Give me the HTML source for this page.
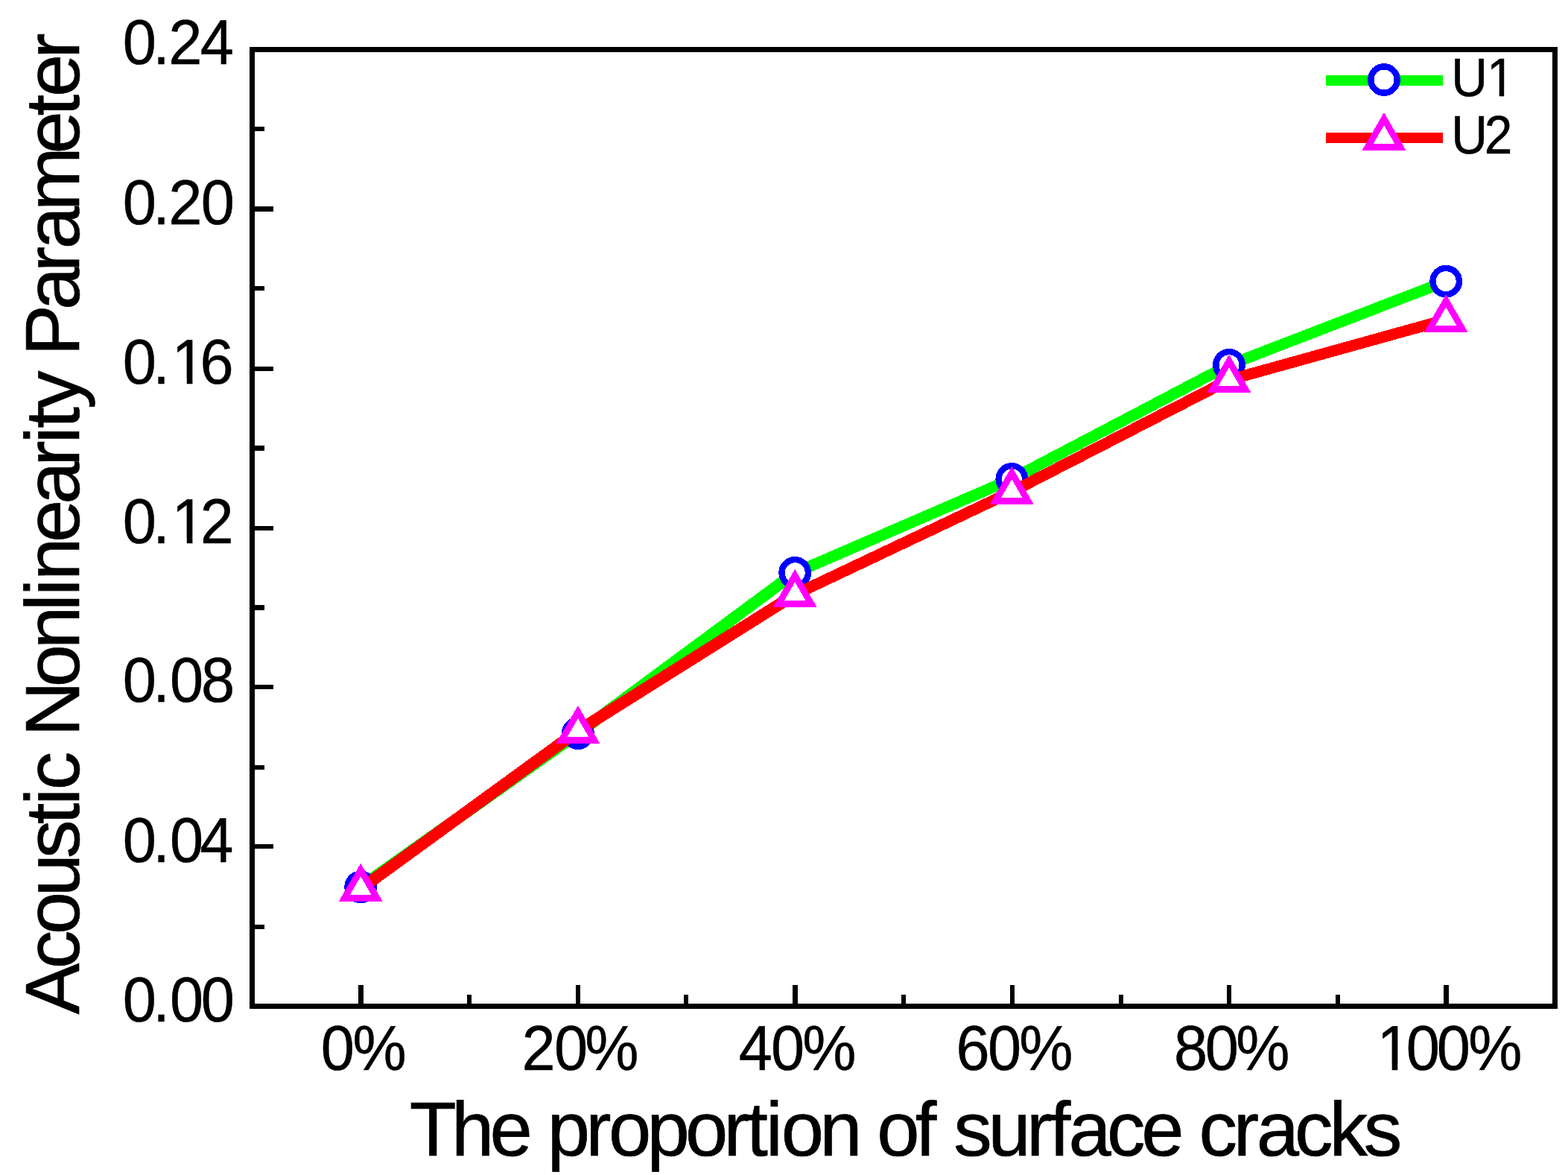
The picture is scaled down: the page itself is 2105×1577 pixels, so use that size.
<!DOCTYPE html>
<html lang="en">
<head>
<meta charset="utf-8">
<title>Acoustic Nonlinearity Parameter vs. proportion of surface cracks</title>
<style>
html,body{margin:0;padding:0;background:#fff}
body{width:2105px;height:1577px;overflow:hidden}
svg{display:block}
text{font-kerning:none;text-rendering:geometricPrecision;white-space:pre}
</style>
</head>
<body>
<svg width="2105" height="1577" viewBox="0 0 2105 1577" role="img" aria-label="Acoustic Nonlinearity Parameter versus the proportion of surface cracks">
<defs><clipPath id="c0"><path clip-rule="evenodd" d="M84.5 414.84H395.3V548.12H84.5zM235 508H250.8V516H235zM258.43 508H273V516H258.43z"/></clipPath><clipPath id="c1"><path clip-rule="evenodd" d="M84.5 628.84H394.5V762.12H84.5zM235 722H250.8V730H235zM258.43 722H273V730H258.43z"/></clipPath><clipPath id="c2"><path clip-rule="evenodd" d="M1770.5 1335.94H2123.1V1469.22H1770.5zM1853 1429H1868.7V1437H1853zM1876.32 1429H1890V1437H1876.32z"/></clipPath><clipPath id="c3"><path clip-rule="evenodd" d="M1882.7 44.22H2089.3V156.86H1882.7zM1999 123H2012.68V130H1999zM2019.15 123H2031V130H2019.15z"/></clipPath></defs>
<rect x="338.5" y="66.5" width="1749.0" height="1284.0" fill="none" stroke="#000" stroke-width="7"/>
<path d="M481 1322h7v26h-7zM627 1335h6v13h-6zM773 1322h6v26h-6zM918 1335h6v13h-6zM1064 1322h7v26h-7zM1210 1335h6v13h-6zM1356 1322h6v26h-6zM1502 1335h6v13h-6zM1647 1322h6v26h-6zM1793 1335h6v13h-6zM1938 1322h7v26h-7zM341 1241h14v6h-14zM341 1133h26v6h-26zM341 1027h14v6h-14zM341 919h26v6h-26zM341 812h14v7h-14zM341 706h26v6h-26zM341 598h14v7h-14zM341 492h26v6h-26zM341 384h14v6h-14zM341 277h26v7h-26zM341 170h14v6h-14z" fill="#000"/>
<g shape-rendering="crispEdges">
<g stroke="#00ff00" stroke-linecap="round" fill="none"><line x1="484.2" y1="1190.4" x2="775.9" y2="984.1" stroke-width="15.9"/><line x1="775.9" y1="984.1" x2="1067.2" y2="768.8" stroke-width="15.9"/><line x1="1067.2" y1="768.8" x2="1358.3" y2="642.9" stroke-width="15.2"/><line x1="1358.3" y1="642.9" x2="1650" y2="489.8" stroke-width="15.2"/><line x1="1650" y1="489.8" x2="1941.2" y2="377.6" stroke-width="15.0"/></g>
<g fill="#fff" stroke="#0000ff" stroke-width="8.4">
<circle cx="484.2" cy="1190.4" r="17.7"/>
<circle cx="775.9" cy="984.1" r="17.7"/>
<circle cx="1067.2" cy="768.8" r="17.7"/>
<circle cx="1358.3" cy="642.9" r="17.7"/>
<circle cx="1650" cy="489.8" r="17.7"/>
<circle cx="1941.2" cy="377.6" r="17.7"/>
</g>
<g stroke="#ff0000" stroke-linecap="round" fill="none"><line x1="484.2" y1="1192.9" x2="775.9" y2="980.9" stroke-width="15.9"/><line x1="775.9" y1="980.9" x2="1067.2" y2="797.9" stroke-width="15.9"/><line x1="1067.2" y1="797.9" x2="1358.3" y2="660" stroke-width="15.2"/><line x1="1358.3" y1="660" x2="1650" y2="509.9" stroke-width="15.2"/><line x1="1650" y1="509.9" x2="1941.2" y2="429" stroke-width="15.0"/></g>
<g fill="#fff" stroke="#ff00ff" stroke-width="8.7" stroke-linejoin="miter">
<polygon points="484.2,1167.55 506.15,1205.57 462.25,1205.57"/>
<polygon points="775.9,955.55 797.85,993.57 753.95,993.57"/>
<polygon points="1067.2,772.55 1089.15,810.57 1045.25,810.57"/>
<polygon points="1358.3,634.65 1380.25,672.67 1336.35,672.67"/>
<polygon points="1650,484.55 1671.95,522.57 1628.05,522.57"/>
<polygon points="1941.2,403.65 1963.15,441.67 1919.25,441.67"/>
</g>
<rect x="1780" y="101" width="157" height="14" fill="#00ff00"/>
<circle cx="1858" cy="107" r="17.7" fill="#fff" stroke="#0000ff" stroke-width="8.4"/>
<rect x="1780" y="178" width="157" height="14" fill="#ff0000"/>
<polygon points="1858,159.55 1879.95,197.57 1836.05,197.57" fill="#fff" stroke="#ff00ff" stroke-width="8.7"/>
</g>
<g font-family='"Liberation Sans", Arial, Helvetica, sans-serif' fill="#000">
<text transform="translate(167.8 85.9) scale(0.975 1.024)" x="-3.06 38.43 60.07 103.51" y="0" font-size="83.3" stroke="#000" stroke-width="0.45">0.24</text>
<text transform="translate(167.8 300.8) scale(0.975 1.024)" x="-3.06 38.43 60.07 104.68" y="0" font-size="83.3" stroke="#000" stroke-width="0.45">0.20</text>
<g clip-path="url(#c0)"><text transform="translate(167.8 514.8) scale(0.975 1.024)" x="-3.06 38.43 64.41 103.42" y="0" font-size="83.3" stroke="#000" stroke-width="0.45">0.16</text></g>
<g clip-path="url(#c1)"><text transform="translate(167.8 728.8) scale(0.975 1.024)" x="-3.06 38.43 64.41 103.3" y="0" font-size="83.3" stroke="#000" stroke-width="0.45">0.12</text></g>
<text transform="translate(167.8 941.9) scale(0.975 1.024)" x="-3.06 38.43 61.66 104.78" y="0" font-size="83.3" stroke="#000" stroke-width="0.45">0.08</text>
<text transform="translate(167.8 1156.8) scale(0.975 1.024)" x="-3.06 38.43 61.66 103.15" y="0" font-size="83.3" stroke="#000" stroke-width="0.45">0.04</text>
<text transform="translate(167.8 1370.8) scale(0.975 1.024)" x="-3.06 38.43 61.66 104.68" y="0" font-size="83.3" stroke="#000" stroke-width="0.45">0.00</text>
<text transform="translate(433.8 1435.9) scale(0.975 1.024)" x="-3.01 40.68" y="0" font-size="83.3" stroke="#000" stroke-width="0.45">0%</text>
<text transform="translate(703 1435.9) scale(0.975 1.024)" x="-2.65 41.94 84.45" y="0" font-size="83.3" stroke="#000" stroke-width="0.45">20%</text>
<text transform="translate(993 1435.9) scale(0.975 1.024)" x="-1.36 43.02 86.54" y="0" font-size="83.3" stroke="#000" stroke-width="0.45">40%</text>
<text transform="translate(1285.8 1435.9) scale(0.975 1.024)" x="-2.37 41.2 84.59" y="0" font-size="83.3" stroke="#000" stroke-width="0.45">60%</text>
<text transform="translate(1579 1435.9) scale(0.975 1.024)" x="-3.09 39.81 82.4" y="0" font-size="83.3" stroke="#000" stroke-width="0.45">80%</text>
<g clip-path="url(#c2)"><text transform="translate(1853.8 1435.9) scale(0.975 1.024)" x="-5.44 34.84 76.99 120.45" y="0" font-size="83.3" stroke="#000" stroke-width="0.45">100%</text></g>
<g clip-path="url(#c3)"><text transform="translate(1953.1 128.7) scale(0.96 1.034)" x="-5.16 44.62" y="0" font-size="70.4" stroke="#000" stroke-width="0.5">U1</text></g>
<text transform="translate(1953.1 205.7) scale(0.96 1.034)" x="-5.16 41.31" y="0" font-size="70.4" stroke="#000" stroke-width="0.5">U2</text>
<text transform="translate(551.6 1551)" x="-1.98 54.53 106.01 157.33 183.22 234.59 265.51 317.01 368.47 419.85 450.62 476.3 497.06 548.54 599.86 625.74 677.07 702.78 728.62 774.94 826.32 857.09 882.99 934.42 980.72 1032.04 1057.9 1104.1 1135.06 1186.49 1232.8 1279.04" y="0" font-size="103" stroke="#000" stroke-width="0.7">The proportion of surface cracks</text>
<text transform="translate(106 1361.8) rotate(-90)" x="0.19 61.44 107.44 158.58 209.69 255.55 281.06 301.67 347.51 373.32 439.63 490.78 541.73 562.16 582.78 633.93 685.1 736.11 766.64 787.11 812.79 858.64 884.43 945.71 996.73 1027.48 1078.76 1155.2 1206.19 1231.9 1282.94" y="0" font-size="103" stroke="#000" stroke-width="0.7">Acoustic Nonlinearity Parameter</text>
</g>
</svg>
</body>
</html>
